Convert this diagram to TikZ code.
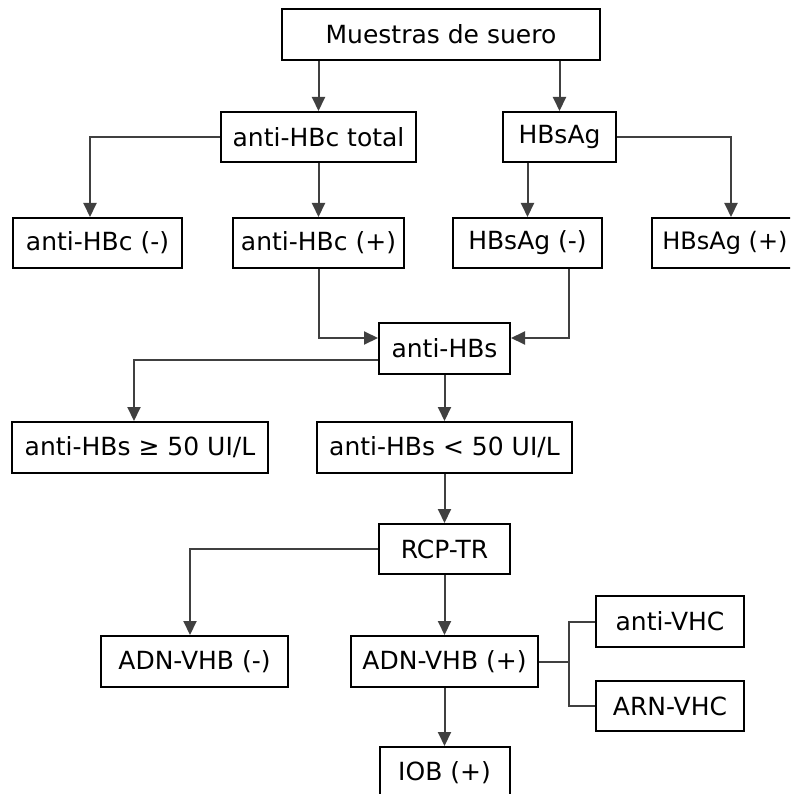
\documentclass[tikz,border=0pt]{standalone}
\usepackage{fontspec}
\setmainfont{DejaVu Sans}
\usetikzlibrary{arrows.meta}
\begin{document}
\begin{tikzpicture}[x=1pt,y=-1pt,
  box/.style={draw=black, line width=2pt, fill=white, inner sep=0pt,
    font=\fontsize{25}{29}\selectfont},
  conn/.style={draw=black!75, line width=2pt},
  arr/.style={conn, -{Triangle[width=13pt,length=14pt]}}]
\useasboundingbox (0,0) rectangle (790,794);
\clip (0,0) rectangle (790,794);
\fill[white] (0,0) rectangle (790,794);
% nodes
\node[box, minimum width=318pt, minimum height=51pt] (top) at (441,34.5) {Muestras de suero};
\node[box, minimum width=195pt, minimum height=50pt] (tot) at (318.5,137) {anti-HBc total};
\node[box, minimum width=113pt, minimum height=50pt] (hbs) at (559.5,137) {HBsAg};
\node[box, minimum width=169pt, minimum height=50pt] (neg) at (97.5,243) {anti-HBc (-)};
\node[box, minimum width=171pt, minimum height=50pt] (pos) at (318.5,243) {anti-HBc (+)};
\node[box, minimum width=149pt, minimum height=50pt] (hbsneg) at (527.5,243) {HBsAg (-)};
\node[box, minimum width=146pt, minimum height=50pt, font=\fontsize{24}{28}\selectfont] (hbspos) at (725,243) {HBsAg (+)};
\node[box, minimum width=131pt, minimum height=51pt] (ahbs) at (444.5,348.5) {anti-HBs};
\node[box, minimum width=256pt, minimum height=51pt] (ge) at (140,447.5) {anti-HBs ≥ 50 UI/L};
\node[box, minimum width=255pt, minimum height=51pt] (lt) at (444.5,447.5) {anti-HBs < 50 UI/L};
\node[box, minimum width=131pt, minimum height=50pt] (rcp) at (444.5,549) {RCP-TR};
\node[box, minimum width=187pt, minimum height=51pt] (adnn) at (194.5,661.5) {ADN-VHB (-)};
\node[box, minimum width=187pt, minimum height=51pt] (adnp) at (444.5,661.5) {ADN-VHB (+)};
\node[box, minimum width=130pt, minimum height=51pt] (iob) at (444.5,772.5) {IOB (+)};
\node[box, minimum width=148pt, minimum height=51pt] (avhc) at (670,621.5) {anti-VHC};
\node[box, minimum width=148pt, minimum height=50pt] (arn) at (670,706) {ARN-VHC};
% connectors
\draw[arr] (top.south -| tot.north) -- (tot.north);
\draw[arr] (top.south -| hbs.north) -- (hbs.north);
\draw[arr] (tot.west) -| ([xshift=-7.5pt]neg.north);
\draw[arr] (tot.south) -- (pos.north);
\draw[arr] (hbs.south -| hbsneg.north) -- (hbsneg.north);
\draw[arr] (hbs.east) -| ([xshift=6pt]hbspos.north);
\draw[arr] (pos.south) |- ([yshift=10.5pt]ahbs.west);
\draw[arr] ([xshift=41.5pt]hbsneg.south) |- ([yshift=10.5pt]ahbs.east);
\draw[arr] ([yshift=-11.5pt]ahbs.west) -| ([xshift=-6pt]ge.north);
\draw[arr] (ahbs.south) -- (lt.north);
\draw[arr] (lt.south) -- (rcp.north);
\draw[arr] (rcp.west) -| ([xshift=-4.5pt]adnn.north);
\draw[arr] (rcp.south) -- (adnp.north);
\draw[arr] (adnp.south) -- (iob.north);
\draw[conn] (adnp.east) -- ++(30,0) coordinate (br);
\draw[conn] (avhc.west) -| (br) |- (arn.west);
\end{tikzpicture}
\end{document}
